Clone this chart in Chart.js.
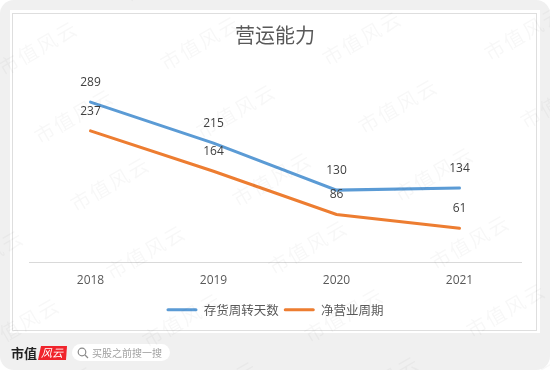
<!DOCTYPE html>
<html>
<head>
<meta charset="utf-8">
<style>
  html, body { margin: 0; padding: 0; background: #fff; }
  canvas { display: block; }
</style>
<script src="https://cdn.jsdelivr.net/npm/chart.js@4"></script>
</head>
<body>
<canvas id="chart" width="550" height="370"></canvas>
<script>
// data
const years = ["2018", "2019", "2020", "2021"];
const inventoryDays = [289, 215, 130, 134];
const netCycleDays = [237, 164, 86, 61];

const cjk = '"Noto Sans CJK SC", "Noto Sans", sans-serif';
const latin = '"Open Sans", "Noto Sans", sans-serif';

function rr(ctx, x, y, w, h, r) {
  ctx.beginPath();
  ctx.roundRect(x, y, w, h, r);
}

// grey page, white card and thin frame behind the chart
const card = {
  id: 'card',
  beforeDraw(chart) {
    const ctx = chart.ctx;
    ctx.save();
    ctx.fillStyle = '#fff';
    ctx.fillRect(0, 0, 550, 370);
    ctx.fillStyle = '#f0f0f0';
    rr(ctx, 0, 0, 550, 370, 14);
    ctx.fill();
    ctx.fillStyle = '#fff';
    ctx.fillRect(10, 10, 530, 323);
    ctx.strokeStyle = '#dedede';
    ctx.lineWidth = 1;
    ctx.strokeRect(12.5, 13.5, 524, 317);
    ctx.restore();
  }
};

// value labels above each point
const valueLabels = {
  id: 'valueLabels',
  afterDatasetsDraw(chart) {
    const ctx = chart.ctx;
    ctx.save();
    ctx.font = '12px ' + latin;
    ctx.fillStyle = '#404040';
    ctx.textAlign = 'center';
    ctx.textBaseline = 'middle';
    chart.data.datasets.forEach((ds, i) => {
      chart.getDatasetMeta(i).data.forEach((pt, j) => {
        ctx.fillText(ds.data[j], pt.x, pt.y - 19.5);
      });
    });
    ctx.restore();
  }
};

// footer logo + search pill, then the watermark over everything
const footer = {
  id: 'footer',
  afterDraw(chart) {
    const ctx = chart.ctx;
    ctx.save();
    ctx.textBaseline = 'middle';
    ctx.textAlign = 'left';
    ctx.font = 'bold 13px ' + cjk;
    ctx.fillStyle = '#222';
    ctx.fillText('市值', 11, 353);

    ctx.fillStyle = '#f0242c';
    ctx.beginPath();
    ctx.moveTo(41, 346);
    ctx.lineTo(67, 346);
    ctx.lineTo(66, 360);
    ctx.lineTo(38, 360);
    ctx.closePath();
    ctx.fill();
    ctx.font = 'italic 11px ' + cjk;
    ctx.fillStyle = '#fff';
    ctx.fillText('风云', 41, 353);

    ctx.fillStyle = '#fff';
    rr(ctx, 72, 344, 98, 17, 8.5);
    ctx.fill();
    ctx.strokeStyle = '#8a8a8a';
    ctx.lineWidth = 1.2;
    ctx.beginPath();
    ctx.arc(82, 352, 3.8, 0, Math.PI * 2);
    ctx.moveTo(85, 355);
    ctx.lineTo(88, 358);
    ctx.stroke();
    ctx.font = '10px ' + cjk;
    ctx.fillStyle = '#a0a0a0';
    ctx.fillText('买股之前搜一搜', 92, 353);

    ctx.font = '20px ' + cjk;
    ctx.fillStyle = 'rgba(0,0,0,0.03)';
    for (let r = -1; r < 7; r++) {
      for (let c = -2; c < 5; c++) {
        const x = c * 162 + r * 36;
        const y = 70 + r * 68 - c * 5;
        ctx.save();
        ctx.translate(x, y);
        ctx.rotate(-30 * Math.PI / 180);
        ctx.letterSpacing = '2px';
        ctx.fillText('市值风云', 0, 0);
        ctx.restore();
      }
    }
    ctx.restore();
  }
};

const config = {
  type: 'line',
  data: {
    labels: years,
    datasets: [
      {
        label: '存货周转天数',
        data: inventoryDays,
        borderColor: '#5b9bd5',
        backgroundColor: '#5b9bd5',
        borderWidth: 3,
        borderCapStyle: 'round',
        pointRadius: 0,
        tension: 0
      },
      {
        label: '净营业周期',
        data: netCycleDays,
        borderColor: '#ed7d31',
        backgroundColor: '#ed7d31',
        borderWidth: 3,
        borderCapStyle: 'round',
        pointRadius: 0,
        tension: 0
      }
    ]
  },
  options: {
    responsive: false,
    animation: false,
    layout: { padding: { left: 29, right: 29, top: 23, bottom: 44 } },
    plugins: {
      tooltip: { enabled: false },
      title: {
        display: true,
        text: '营运能力',
        color: '#595959',
        font: { family: cjk, size: 20, weight: 'normal', lineHeight: 1.2 },
        padding: { top: 0, bottom: 49 }
      },
      legend: {
        position: 'bottom',
        labels: {
          color: '#595959',
          font: { family: cjk, size: 12.5 },
          boxWidth: 31,
          boxHeight: 3,
          padding: 5,
          useBorderRadius: true,
          borderRadius: 1.5,
          generateLabels(chart) {
            const items = Chart.defaults.plugins.legend.labels.generateLabels(chart);
            items.forEach(item => { item.lineWidth = 0; });
            return items;
          }
        }
      }
    },
    scales: {
      x: {
        offset: true,
        grid: { display: false },
        border: { color: '#d9d9d9', width: 1 },
        ticks: { color: '#595959', font: { family: latin, size: 12 }, padding: 3, maxRotation: 0 },
        // leaves room between the tick labels and the legend
        afterFit(scale) { scale.height += 8; }
      },
      y: { display: false, min: 0, max: 300 }
    }
  },
  plugins: [card, valueLabels, footer]
};

const chart = new Chart(document.getElementById('chart'), config);
</script>
</body>
</html>
